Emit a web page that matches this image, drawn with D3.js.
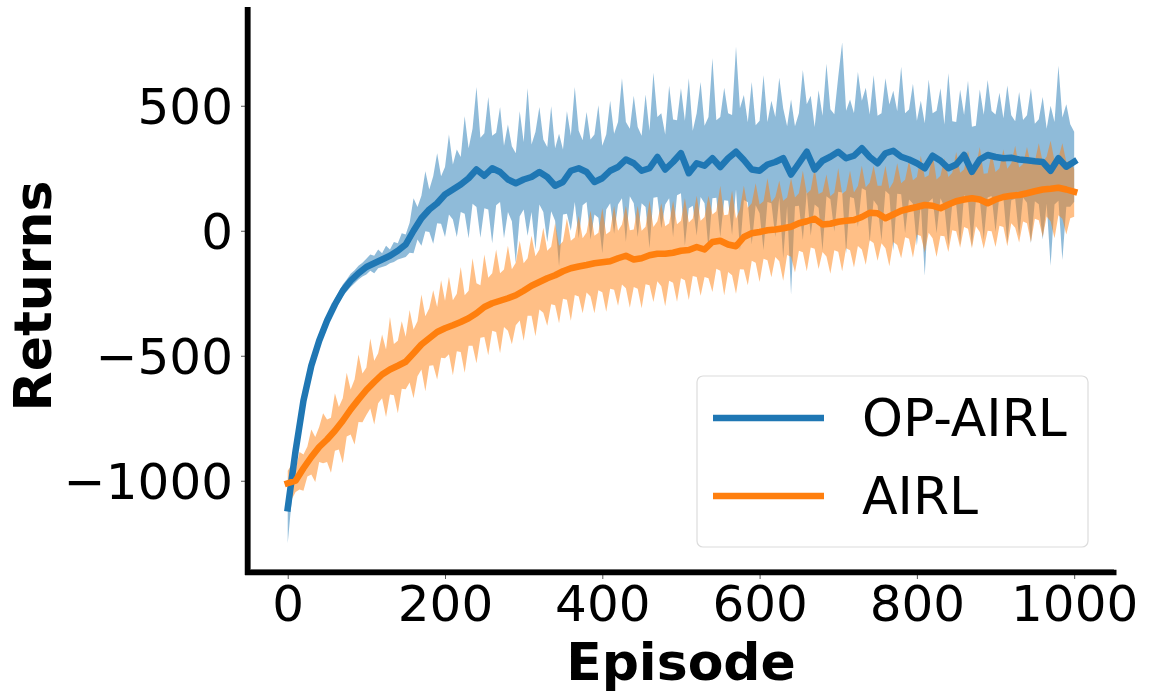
<!DOCTYPE html>
<html>
<head>
<meta charset="utf-8">
<script src="https://cdn.jsdelivr.net/npm/d3@7"></script>
<style>
html,body{margin:0;padding:0;background:#fff;}
svg{display:block;}
</style>
</head>
<body>
<svg id="chart" width="1150" height="692"></svg>
<script>
// ---- data ----
const seriesNames = ["OP-AIRL", "AIRL"];
const xTicks = [0, 200, 400, 600, 800, 1000];
const yTicks = [-1000, -500, 0, 500];
const meanStep = 10;   // episodes between mean samples
const bandStep = 5;    // episodes between band samples

const opMean = [-1110,-880,-680,-540,-440,-360,-295,-240,-200,-170,
 -145,-130,-115,-100,-80,-55,0,50,85,110,
 145,165,185,210,245,220,250,235,205,190,
 205,215,235,215,180,195,240,250,235,195,
 210,240,255,285,270,240,250,295,245,275,
 310,230,270,260,290,255,290,316,283,245,
 240,265,275,290,225,270,316,245,280,296,
 316,290,300,330,295,270,310,320,296,285,
 270,250,300,280,250,265,303,236,285,303,
 295,290,292,285,282,278,275,240,290,256,276];

const airlMean = [-1010,-1000,-950,-905,-865,-835,-800,-760,-715,-675,
 -637,-605,-575,-555,-540,-524,-490,-455,-430,-405,
 -390,-378,-365,-350,-330,-305,-290,-280,-270,-258,
 -240,-220,-205,-190,-178,-162,-150,-143,-137,-130,
 -126,-122,-110,-100,-115,-110,-98,-92,-92,-88,
 -80,-77,-65,-75,-45,-40,-55,-62,-25,-10,
 -5,2,5,10,16,30,38,48,25,28,
 36,40,43,55,72,70,50,65,80,88,
 95,103,100,90,105,118,125,130,125,110,
 125,135,140,143,150,158,165,168,172,165,156];

const opUpper = [-1060,-960,-850,-750,-655,-585,-515,-468,-418,-378,
 -338,-305,-272,-245,-215,-195,-172,-158,-140,-128,
 -112,-95,-100,-75,-90,-60,-75,-45,-50,-10,
 -15,32,130,95,140,238,165,218,310,218,
 255,385,265,325,295,458,330,408,575,372,
 390,535,380,392,495,340,425,338,310,478,
 355,570,345,395,495,365,335,498,330,388,
 325,478,380,575,400,362,475,365,385,502,
 340,385,520,388,435,610,435,408,540,415,
 380,545,400,632,455,470,385,580,445,442,
 570,440,610,400,470,595,420,455,690,442,
 455,572,470,463,736,490,543,434,595,422,
 440,622,435,520,455,612,490,418,525,418,
 470,643,506,540,415,562,460,668,486,466,
 616,753,480,525,470,635,520,572,465,622,
 460,470,610,505,560,478,656,470,485,588,
 440,520,430,605,470,480,570,425,630,438,
 435,564,463,600,416,420,565,464,603,479,
 465,552,450,581,462,438,555,443,462,570,
 428,446,535,408,500,435,660,453,506,426,396];

const opLower = [-1250,-1080,-920,-810,-705,-635,-565,-512,-462,-422,
 -382,-350,-318,-290,-262,-243,-225,-210,-195,-183,
 -175,-160,-170,-150,-145,-140,-130,-125,-115,-110,
 -105,-88,-90,-35,-60,-2,-5,-52,30,28,
 -25,65,45,-25,75,68,-30,108,95,-28,
 90,85,-50,102,115,-30,75,38,-130,58,
 85,-20,75,-75,105,75,-45,78,40,-142,
 65,68,0,115,-30,102,115,-35,65,52,
 -90,85,110,-12,105,130,-45,138,110,-25,
 110,95,-70,132,135,10,105,130,-25,142,
 150,-60,90,100,-20,135,110,-75,130,132,
 -25,122,120,-17,166,-80,123,114,-55,102,
 70,-78,115,110,-25,132,-110,98,-255,98,
 100,-37,156,-20,105,92,-80,138,126,-4,
 156,153,-90,135,130,15,170,162,-45,122,
 100,-40,160,145,-80,148,146,-10,125,108,
 -60,110,-180,115,130,-10,130,95,-60,108,
 105,-56,143,120,-64,120,125,-36,133,139,
 -5,142,130,-49,122,128,-25,133,112,-50,
 118,106,-35,108,-140,105,120,-117,96,96,116];

const airlUpper = [-960,-935,-955,-885,-895,-863,-795,-825,-785,-730,
 -755,-748,-650,-705,-670,-568,-635,-595,-495,-571,
 -547,-431,-520,-490,-415,-475,-345,-453,-440,-362,
 -424,-317,-395,-362,-255,-342,-310,-238,-305,-198,
 -280,-184,-278,-252,-145,-258,-240,-110,-210,-218,
 -95,-188,-170,-75,-170,-155,-60,-154,-128,-40,
 -130,-110,-20,-102,-75,12,-80,-64,30,-60,
 -42,50,-40,-27,60,-30,-7,80,-20,-8,
 90,-14,-2,100,0,25,100,2,5,100,
 0,16,120,15,38,110,18,30,120,26,
 40,130,33,49,140,40,55,140,65,78,
 180,62,65,160,48,86,180,92,110,190,
 105,118,210,114,135,200,120,133,210,133,
 150,240,148,163,250,147,155,225,138,152,
 250,148,160,240,153,179,260,174,192,260,
 180,180,260,168,195,270,190,204,280,202,
 215,300,213,222,310,205,220,290,215,232,
 315,232,245,320,240,258,335,228,230,310,
 235,250,325,248,270,340,253,267,335,264,
 278,350,275,297,360,280,292,350,275,280,246];

const airlLower = [-1060,-1075,-1045,-1035,-1040,-983,-975,-1005,-925,-930,
 -925,-968,-880,-875,-930,-823,-815,-855,-765,-766,
 -737,-711,-775,-690,-670,-745,-655,-658,-730,-632,
 -634,-607,-670,-582,-555,-642,-540,-538,-595,-508,
 -510,-494,-578,-482,-485,-568,-460,-460,-530,-428,
 -425,-498,-400,-405,-490,-385,-400,-454,-378,-359,
 -440,-340,-340,-422,-315,-328,-380,-294,-298,-370,
 -272,-276,-360,-257,-263,-330,-247,-263,-330,-238,
 -246,-324,-232,-236,-300,-215,-230,-308,-225,-232,
 -310,-214,-218,-285,-202,-222,-302,-200,-208,-284,
 -190,-198,-277,-181,-185,-260,-185,-190,-245,-152,
 -160,-258,-165,-178,-252,-154,-155,-218,-120,-128,
 -205,-112,-118,-186,-105,-122,-200,-97,-104,-167,
 -80,-86,-162,-67,-72,-153,-85,-103,-172,-78,
 -84,-162,-70,-78,-147,-61,-75,-136,-38,-49,
 -120,-50,-70,-142,-45,-57,-110,-26,-32,-108,
 -15,-21,-87,-8,-30,-105,-20,-22,-85,2,
 -2,-68,15,8,-70,18,-5,-72,0,-2,
 -65,20,15,-62,30,12,-47,37,30,-46,
 48,42,-25,57,38,-30,62,48,-15,50,56];

// ---- layout ----
const svg = d3.select("#chart");
const x = d3.scaleLinear().domain([-50, 1050]).range([248.4, 1113.5]);
const y = d3.scaleLinear().domain([-1370, 895]).range([573.25, 7]);
const colors = ["#1f77b4", "#ff7f0e"];
const font = "'DejaVu Sans', sans-serif";

const meanData = [opMean, airlMean];
const bands = [[opUpper, opLower], [airlUpper, airlLower]];

svg.append("defs").append("clipPath").attr("id", "plotclip")
  .append("rect").attr("x", 248.4).attr("y", 7).attr("width", 1113.5 - 248.4).attr("height", 573.25 - 7);

const plot = svg.append("g").attr("clip-path", "url(#plotclip)");

// bands
bands.forEach((b, i) => {
  const pts = b[0].map((u, k) => ({ e: k * bandStep, u: u, l: b[1][k] }));
  const area = d3.area().x(d => x(d.e)).y0(d => y(d.l)).y1(d => y(d.u));
  plot.append("path").attr("d", area(pts))
    .attr("fill", colors[i]).attr("fill-opacity", 0.5).attr("stroke", "none");
});

// mean lines
meanData.forEach((m, i) => {
  const pts = m.map((v, k) => ({ e: k * meanStep, v: v }));
  const line = d3.line().x(d => x(d.e)).y(d => y(d.v));
  plot.append("path").attr("d", line(pts))
    .attr("fill", "none").attr("stroke", colors[i])
    .attr("stroke-width", 6.5).attr("stroke-linejoin", "round").attr("stroke-linecap", "square");
});

// axes
const xAxis = d3.axisBottom(x).tickValues(xTicks).tickSize(4).tickPadding(8)
  .tickFormat(d3.format("d"));
const gx = svg.append("g").attr("transform", "translate(0,575)").call(xAxis);
gx.select(".domain").remove();
gx.selectAll(".tick line").attr("stroke", "#555").attr("stroke-width", 1);
gx.selectAll(".tick text").attr("font-family", font).attr("font-size", 50)
  .attr("fill", "#000").attr("dy", null).attr("y", 46);

const yAxis = d3.axisLeft(y).tickValues(yTicks).tickSize(4).tickPadding(10)
  .tickFormat(d => d < 0 ? "\u2212" + Math.abs(d) : String(d));
const gy = svg.append("g").attr("transform", "translate(245,0)").call(yAxis);
gy.select(".domain").remove();
gy.selectAll(".tick line").attr("stroke", "#555").attr("stroke-width", 1);
gy.selectAll(".tick text").attr("font-family", font).attr("font-size", 50)
  .attr("fill", "#000").attr("dy", "0.36em").attr("x", -12);

// spines
svg.append("line").attr("x1", 250.5).attr("x2", 250.5).attr("y1", 7).attr("y2", 570)
  .attr("stroke", "#888").attr("stroke-width", 1);
svg.append("line").attr("x1", 250).attr("x2", 1114).attr("y1", 569.5).attr("y2", 569.5)
  .attr("stroke", "#888").attr("stroke-width", 1);
svg.append("line").attr("x1", 247.5).attr("x2", 247.5).attr("y1", 7).attr("y2", 575)
  .attr("stroke", "#000").attr("stroke-width", 5.5);
svg.append("line").attr("x1", 245).attr("x2", 1116.5).attr("y1", 572.5).attr("y2", 572.5)
  .attr("stroke", "#000").attr("stroke-width", 5.5);

// axis labels
svg.append("text").attr("x", 681).attr("y", 680).attr("text-anchor", "middle")
  .attr("font-family", font).attr("font-weight", "bold").attr("font-size", 52)
  .attr("fill", "#000").text("Episode");
svg.append("text").attr("transform", "translate(51,296) rotate(-90)")
  .attr("text-anchor", "middle")
  .attr("font-family", font).attr("font-weight", "bold").attr("font-size", 52)
  .attr("fill", "#000").text("Returns");

// legend
const lg = svg.append("g");
lg.append("rect").attr("x", 697).attr("y", 376).attr("width", 391).attr("height", 171)
  .attr("rx", 6).attr("ry", 6).attr("fill", "#fff").attr("fill-opacity", 0.8)
  .attr("stroke", "#dcdcdc").attr("stroke-width", 1.2);
const legendY = [418, 496];
seriesNames.forEach((n, i) => {
  lg.append("line").attr("x1", 713).attr("x2", 824).attr("y1", legendY[i]).attr("y2", legendY[i])
    .attr("stroke", colors[i]).attr("stroke-width", 6.5);
  lg.append("text").attr("x", 862).attr("y", legendY[i] + 18)
    .attr("font-family", font).attr("font-size", 52).attr("fill", "#000").text(n);
});
</script>
</body>
</html>
